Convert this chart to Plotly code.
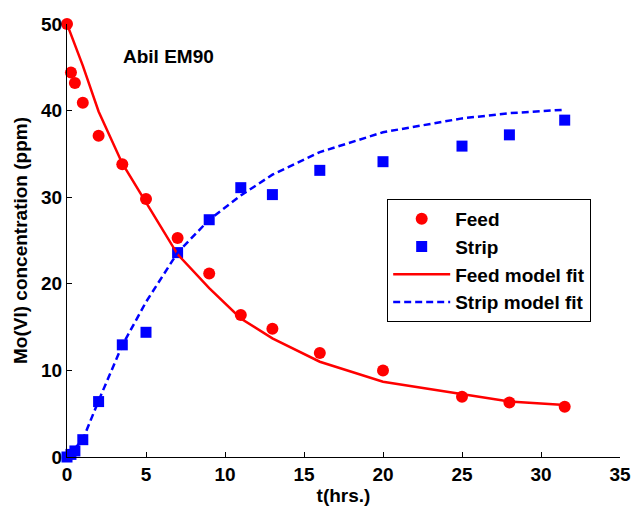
import plotly.graph_objects as go

# Data
t_feed = [0, 0.25, 0.5, 1, 2, 3.5, 5, 7, 9, 11, 13, 16, 20, 25, 28, 31.5]
feed = [50, 44.4, 43.2, 40.9, 37.1, 33.8, 29.8, 25.3, 21.2, 16.4, 14.8, 12.0, 10.0, 6.95, 6.3, 5.8]
t_strip = [0, 0.25, 0.5, 1, 2, 3.5, 5, 7, 9, 11, 13, 16, 20, 25, 28, 31.5]
strip = [0, 0.3, 0.7, 2.0, 6.4, 12.95, 14.4, 23.6, 27.4, 31.1, 30.3, 33.1, 34.1, 35.9, 37.2, 38.9]
t_model = [0, 0.25, 0.5, 1, 2, 3.5, 5, 7, 9, 11, 13, 16, 20, 25, 28, 31.5]
feed_model = [50, 48.8, 47.5, 45.2, 39.9, 33.9, 29.4, 23.4, 19.5, 16.0, 13.7, 11.0, 8.7, 7.3, 6.4, 6.0]
strip_model = [0, 0.5, 1.0, 2.0, 6.5, 12.9, 17.9, 23.6, 27.4, 30.2, 32.6, 35.2, 37.5, 39.1, 39.7, 40.1]
x_ticks = [0, 5, 10, 15, 20, 25, 30, 35]
y_ticks = [0, 10, 20, 30, 40, 50]

RED = "#FF0000"
BLUE = "#0000FF"
FONT = "Liberation Sans, Arial, Helvetica, sans-serif"
FS = 19

fig = go.Figure()
fig.add_trace(go.Scatter(x=t_feed, y=feed, mode="markers", name="Feed", legendgroup="a",
                         marker=dict(symbol="circle", size=12, color=RED),
                         cliponaxis=False))
fig.add_trace(go.Scatter(x=t_strip, y=strip, mode="markers", name="Strip", legendgroup="b",
                         marker=dict(symbol="square", size=11, color=BLUE),
                         cliponaxis=False))
fig.add_trace(go.Scatter(x=t_model, y=feed_model, mode="lines", name="Feed model fit", legendgroup="c",
                         line=dict(color=RED, width=2.5), cliponaxis=False))
fig.add_trace(go.Scatter(x=t_model, y=strip_model, mode="lines", name="Strip model fit", legendgroup="d",
                         line=dict(color=BLUE, width=2.5, dash="7px,4px"), cliponaxis=False))

fig.add_annotation(x=6.4, y=46.3, xref="x", yref="y", text="Abil EM90", showarrow=False,
                   font=dict(family=FONT, size=FS, color="black", weight="bold"))

axis_common = dict(showline=True, linecolor="black", linewidth=1, ticks="inside", ticklen=5,
                   tickcolor="black", showgrid=False, zeroline=False, automargin=False,
                   tickfont=dict(family=FONT, size=FS, color="black", weight="bold"))

fig.update_layout(
    width=634, height=510,
    margin=dict(l=67, r=14, t=24, b=53),
    plot_bgcolor="white", paper_bgcolor="white",
    font=dict(family=FONT, color="black"),
    showlegend=True,
    legend=dict(x=0.579, y=0.596, xanchor="left", yanchor="top",
                bordercolor="black", borderwidth=1, bgcolor="white",
                font=dict(family=FONT, size=FS, color="black", weight="bold"),
                itemwidth=57, traceorder="grouped", tracegroupgap=0),
    xaxis=dict(range=[0, 35], tickvals=x_ticks,
               title=dict(text="t(hrs.)", font=dict(family=FONT, size=FS, color="black", weight="bold"), standoff=4),
               **axis_common),
    yaxis=dict(range=[0, 50], tickvals=y_ticks,
               title=dict(text="Mo(VI) concentration (ppm)", font=dict(family=FONT, size=FS, color="black", weight="bold"), standoff=8),
               **axis_common),
)

fig.write_html("out.html")
